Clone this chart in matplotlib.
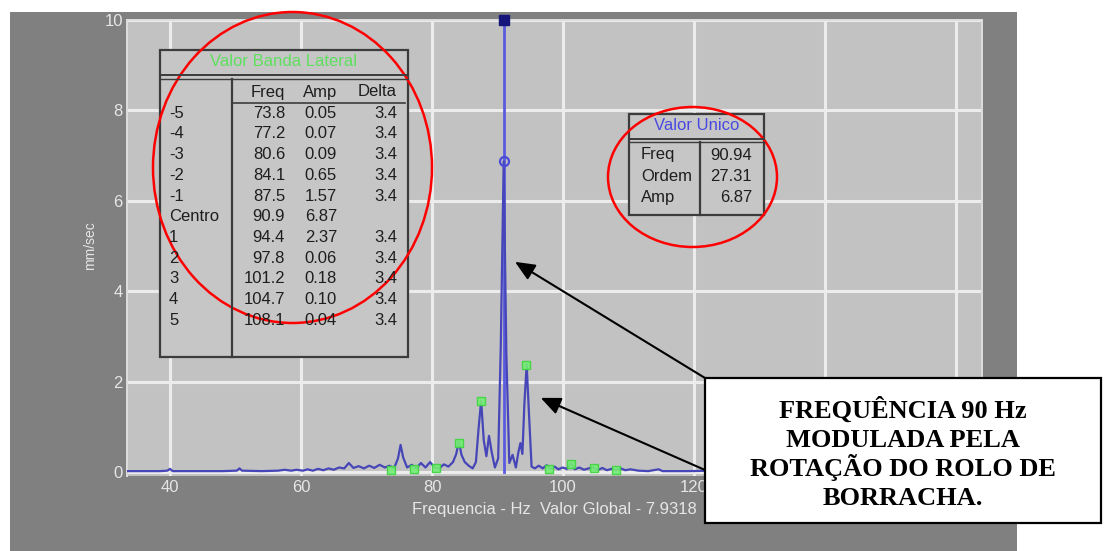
import matplotlib.pyplot as plt
from matplotlib.patches import Rectangle, Ellipse

plt.rcParams["font.family"] = ["Liberation Sans", "DejaVu Sans"]

W, H = 1104, 551

# espectro de velocidade (Hz, mm/sec)
freq = [
    33.5, 36.0, 38.5, 39.6, 40.0, 40.4, 42.0, 45.0, 48.0, 50.2,
    50.6, 51.0, 54.0, 56.5, 57.5, 58.5, 59.3, 60.3, 61.0, 61.8,
    62.6, 63.4, 64.2, 65.0, 65.8, 66.6, 67.3, 68.0, 68.8, 69.6,
    70.4, 71.2, 72.0, 72.8, 73.5, 74.2, 74.8, 75.2, 75.6, 76.2,
    76.9, 77.6, 78.3, 79.0, 79.7, 80.4, 81.1, 81.8, 82.5, 83.2,
    83.7, 84.1, 84.5, 85.0, 85.6, 86.2, 86.7, 87.1, 87.5, 87.9,
    88.3, 88.7, 89.1, 89.6, 90.1, 90.5, 90.94, 91.35, 91.8, 92.3,
    92.8, 93.2, 93.5, 93.8, 94.1, 94.45, 94.8, 95.2, 95.7, 96.3,
    96.9, 97.5, 98.1, 98.7, 99.3, 99.9, 100.6, 101.2, 101.8, 102.5,
    103.2, 103.9, 104.6, 105.3, 106.0, 106.7, 107.4, 108.1, 108.8, 109.5,
    110.3, 111.5, 113.0, 114.6, 115.2, 116.5, 119.0, 123.0, 130.0, 140.0,
    150.0, 164.0,
]
amp = [
    0.02, 0.02, 0.02, 0.03, 0.07, 0.02, 0.02, 0.02, 0.02, 0.03,
    0.08, 0.03, 0.02, 0.03, 0.05, 0.03, 0.05, 0.03, 0.06, 0.03,
    0.07, 0.04, 0.08, 0.05, 0.10, 0.08, 0.20, 0.09, 0.13, 0.08,
    0.14, 0.09, 0.16, 0.10, 0.14, 0.08, 0.30, 0.60, 0.32, 0.10,
    0.16, 0.08, 0.20, 0.10, 0.22, 0.10, 0.08, 0.17, 0.12, 0.22,
    0.40, 0.68, 0.38, 0.22, 0.14, 0.08, 0.22, 0.95, 1.58, 0.70,
    0.35, 0.80, 0.45, 0.10, 0.30, 2.80, 6.87, 2.60, 0.20, 0.38,
    0.10, 0.45, 0.64, 0.40, 1.50, 2.38, 1.30, 0.12, 0.08, 0.14,
    0.08, 0.15, 0.07, 0.12, 0.06, 0.10, 0.07, 0.20, 0.06, 0.10,
    0.05, 0.08, 0.10, 0.04, 0.09, 0.04, 0.07, 0.04, 0.08, 0.04,
    0.06, 0.03, 0.02, 0.06, 0.02, 0.02, 0.02, 0.03, 0.02, 0.02,
    0.02, 0.02,
]

# bandas laterais
sb_labels = ["-5", "-4", "-3", "-2", "-1", "Centro", "1", "2", "3", "4", "5"]
sb_freq = [73.8, 77.2, 80.6, 84.1, 87.5, 90.9, 94.4, 97.8, 101.2, 104.7, 108.1]
sb_amp = [0.05, 0.07, 0.09, 0.65, 1.57, 6.87, 2.37, 0.06, 0.18, 0.10, 0.04]
sb_delta = [3.4, 3.4, 3.4, 3.4, 3.4, None, 3.4, 3.4, 3.4, 3.4, 3.4]

# valor unico (cursor)
peak_freq = 90.94
peak_order = 27.31
peak_amp = 6.87
overall = 7.9318

x_ticks = [40, 60, 80, 100, 120, 140, 160]
x_labels = ["40", "60", "80", "100", "120", "", ""]   # 140/160 ficam sob a caixa
y_ticks = [0, 2, 4, 6, 8, 10]

note_lines = ["FREQUÊNCIA 90 Hz", "MODULADA PELA", "ROTAÇÃO DO ROLO DE", "BORRACHA."]

LABEL_C = "#e6e6e6"
LINE_C = "#4646b8"
TABLE_EDGE = "#3c3c3c"
TXT_C = "#1e1e1e"


def px_axes(fig, zorder):
    a = fig.add_axes([0, 0, 1, 1], zorder=zorder)
    a.set_xlim(0, W)
    a.set_ylim(H, 0)
    a.axis("off")
    return a


def draw_sideband_table(ov):
    x0, y0, x1, y1 = 160, 50, 408, 357
    ov.add_patch(Rectangle((x0, y0), x1 - x0, y1 - y0, facecolor="#c6c6c6",
                           edgecolor=TABLE_EDGE, lw=1.6))
    ov.plot([x0, x1], [75, 75], color=TABLE_EDGE, lw=1.4)
    ov.plot([x0, x1], [78.5, 78.5], color=TABLE_EDGE, lw=1.0)
    ov.plot([232, 232], [78.5, y1], color=TABLE_EDGE, lw=1.6)
    ov.plot([232, 405], [103, 103], color=TABLE_EDGE, lw=1.2)
    ov.text(284, 62, "Valor Banda Lateral", color="#5ee05e", ha="center",
            va="center", fontsize=12)
    cols = [(285, "Freq"), (337, "Amp"), (397, "Delta")]
    for x, h in cols:
        ov.text(x, 92, h, ha="right", va="center", fontsize=12, color=TXT_C)
    for i, lab in enumerate(sb_labels):
        y = 113.3 + i * 20.7
        ov.text(169, y, lab, ha="left", va="center", fontsize=12, color=TXT_C)
        ov.text(285, y, f"{sb_freq[i]:.1f}", ha="right", va="center", fontsize=12, color=TXT_C)
        ov.text(337, y, f"{sb_amp[i]:.2f}", ha="right", va="center", fontsize=12, color=TXT_C)
        if sb_delta[i] is not None:
            ov.text(397, y, f"{sb_delta[i]:.1f}", ha="right", va="center", fontsize=12, color=TXT_C)


def draw_peak_table(ov):
    x0, y0, x1, y1 = 629, 114, 764, 215
    ov.add_patch(Rectangle((x0, y0), x1 - x0, y1 - y0, facecolor="#c6c6c6",
                           edgecolor=TABLE_EDGE, lw=1.6))
    ov.plot([x0, x1], [139, 139], color=TABLE_EDGE, lw=1.4)
    ov.plot([x0, x1], [141.5, 141.5], color=TABLE_EDGE, lw=1.0)
    ov.plot([700, 700], [141.5, y1], color=TABLE_EDGE, lw=1.6)
    ov.text(697, 126, "Valor Unico", color="#4848e0", ha="center", va="center", fontsize=12)
    rows = [("Freq", f"{peak_freq:.2f}"), ("Ordem", f"{peak_order:.2f}"), ("Amp", f"{peak_amp:.2f}")]
    for i, (lab, val) in enumerate(rows):
        y = 155 + i * 21.2
        ov.text(641, y, lab, ha="left", va="center", fontsize=12, color=TXT_C)
        ov.text(752, y, val, ha="right", va="center", fontsize=12, color=TXT_C)


fig = plt.figure(figsize=(W / 100, H / 100), dpi=100, facecolor="white")

bg = px_axes(fig, -1)
bg.add_patch(Rectangle((10, 12), 1007, H - 12, facecolor="#808080", edgecolor="none"))

ax = fig.add_axes([127 / W, 1 - 476 / H, (982 - 127) / W, (476 - 20) / H], zorder=1)
ax.set_facecolor("#c2c2c2")
ax.set_xlim(33.43, 163.97)
ax.set_ylim(-0.088, 10)
ax.set_xticks(x_ticks, x_labels)
ax.set_yticks(y_ticks)
ax.tick_params(length=0, colors=LABEL_C, labelsize=12, pad=3)
ax.grid(True, color="#ececec", lw=2.2)
ax.set_axisbelow(True)
for name, sp in ax.spines.items():
    sp.set_color("#dedede")
    sp.set_linewidth(1.4)
ax.spines["bottom"].set_visible(False)

ax.set_ylabel("mm/sec", color=LABEL_C, fontsize=10)
ax.yaxis.set_label_coords((97 - 127) / 855, (476 - 246) / 456)
ax.set_xlabel(f"Frequencia - Hz  Valor Global - {overall:.4f}", color=LABEL_C, fontsize=12)
ax.xaxis.set_label_coords(0.5, (476 - 502) / 456)

# cursor no pico
ax.plot([peak_freq, peak_freq], [0, 10], color="#5a5ae0", lw=2.0, zorder=3)
ax.plot(freq, amp, color=LINE_C, lw=1.6, zorder=4)
ax.plot([peak_freq], [10], marker="s", ms=7.5, color="#14147a", clip_on=False, zorder=6)
ax.plot([peak_freq], [peak_amp], marker="o", ms=6.5, mfc="none", mec="#4a4ad8", mew=1.6, zorder=6)

side_f = [f for f, lab in zip(sb_freq, sb_labels) if lab != "Centro"]
side_a = [a for a, lab in zip(sb_amp, sb_labels) if lab != "Centro"]
ax.plot(side_f, side_a, ls="none", marker="s", ms=6, mfc="#74ee74", mec="#3ed43e",
        mew=1.0, alpha=0.9, zorder=5)

ov = px_axes(fig, 3)
draw_sideband_table(ov)
draw_peak_table(ov)

ov.add_patch(Ellipse((292.5, 167.5), 279, 311, fill=False, edgecolor="red", lw=1.8))
ov.add_patch(Ellipse((692.5, 177), 169, 140, fill=False, edgecolor="red", lw=1.8))

ov.add_patch(Rectangle((705, 378), 396, 145, facecolor="white", edgecolor="black", lw=1.6))
for i, line in enumerate(note_lines):
    ov.text(903, 418 + i * 29, line, ha="center", va="baseline", fontsize=19,
            fontweight="bold", family=["Liberation Serif", "DejaVu Serif"])

arrow = dict(arrowstyle="-|>,head_length=0.8,head_width=0.35", color="black", lw=1.5,
             mutation_scale=15, shrinkA=0, shrinkB=0)
ov.annotate("", xy=(92.67, 4.65), xycoords=ax.transData, xytext=(705, 378),
            textcoords="data", arrowprops=arrow)
ov.annotate("", xy=(96.6, 1.64), xycoords=ax.transData, xytext=(705, 470),
            textcoords="data", arrowprops=arrow)

fig.savefig("out.png", dpi=100)
